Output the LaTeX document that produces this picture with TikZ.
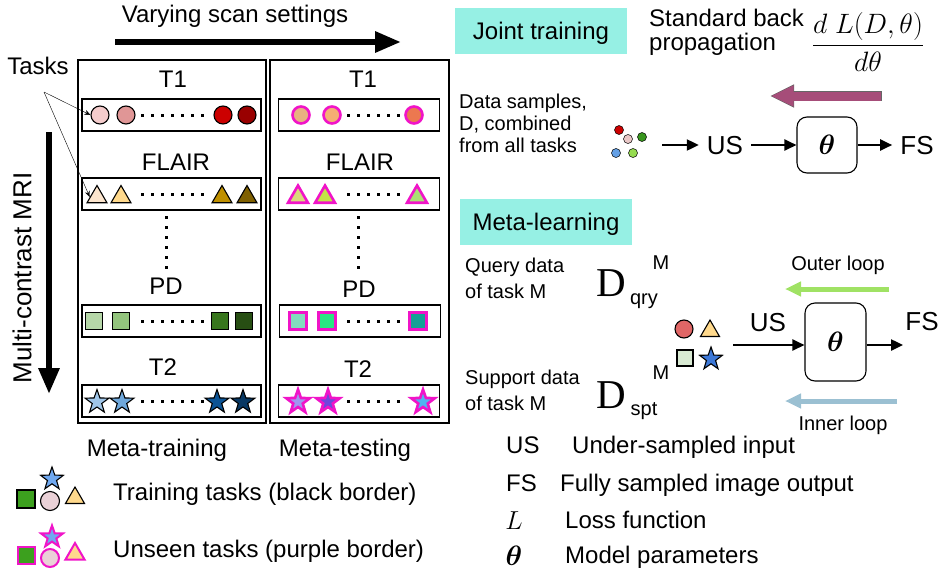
\RequirePackage{fix-cm}
\documentclass[tikz,border=0pt]{standalone}
\usepackage{amsmath}
\usepackage[no-math]{fontspec}
\setmainfont{Liberation Sans}
\newfontfamily\serifD{Liberation Serif}
\usepackage{tikz}
\usetikzlibrary{shapes.geometric, arrows.meta, positioning}

\definecolor{unseenpink}{RGB}{240,20,200}
\definecolor{headcyan}{RGB}{150,240,228}
\definecolor{backmaroon}{RGB}{166,77,121}
\definecolor{outergreen}{RGB}{160,226,100}
\definecolor{innerblue}{RGB}{155,192,210}
\definecolor{circA}{RGB}{244,204,204}
\definecolor{circB}{RGB}{224,150,150}
\definecolor{circC}{RGB}{204,0,0}
\definecolor{circD}{RGB}{153,0,0}
\definecolor{triA}{RGB}{252,229,205}
\definecolor{triB}{RGB}{255,217,140}
\definecolor{triC}{RGB}{191,144,0}
\definecolor{triD}{RGB}{127,96,0}
\definecolor{sqA}{RGB}{182,215,168}
\definecolor{sqB}{RGB}{147,196,125}
\definecolor{sqC}{RGB}{56,118,29}
\definecolor{sqD}{RGB}{39,78,19}
\definecolor{starA}{RGB}{159,197,232}
\definecolor{starB}{RGB}{111,168,220}
\definecolor{starC}{RGB}{11,83,148}
\definecolor{starD}{RGB}{7,55,99}
\definecolor{ucircA}{RGB}{232,178,128}
\definecolor{ucircB}{RGB}{245,175,115}
\definecolor{ucircC}{RGB}{236,120,80}
\definecolor{utriA}{RGB}{218,218,125}
\definecolor{utriB}{RGB}{195,228,70}
\definecolor{utriC}{RGB}{170,225,115}
\definecolor{usqA}{RGB}{130,220,190}
\definecolor{usqB}{RGB}{40,230,130}
\definecolor{usqC}{RGB}{20,160,150}
\definecolor{ustarA}{RGB}{160,150,240}
\definecolor{ustarB}{RGB}{110,70,220}
\definecolor{ustarC}{RGB}{80,180,240}
\definecolor{legGreen}{RGB}{60,160,30}
\definecolor{legStar}{RGB}{111,168,240}
\definecolor{legCirc}{RGB}{234,209,215}
\definecolor{legTri}{RGB}{255,217,140}
\definecolor{metaCirc}{RGB}{224,102,102}
\definecolor{metaSq}{RGB}{217,234,211}
\definecolor{metaStar}{RGB}{60,120,216}
\definecolor{dotRed}{RGB}{204,0,0}
\definecolor{dotPink}{RGB}{234,200,200}
\definecolor{dotGreen}{RGB}{56,150,30}
\definecolor{dotBlue}{RGB}{100,160,230}
\definecolor{dotLime}{RGB}{150,220,80}

\tikzstyle{txt} = [font=\fontsize{24}{28}\selectfont, text height=17pt,
    text depth=0pt, inner sep=0pt]
\tikzstyle{smalltxt} = [font=\fontsize{20}{24}\selectfont, text height=14pt,
    text depth=0pt, inner sep=0pt]
\tikzstyle{flowtxt} = [txt, font=\fontsize{26}{30}\selectfont, text height=18.6pt,
    inner xsep=8pt]
\tikzstyle{panel} = [draw, line width=1.1pt]
\tikzstyle{rowbox} = [draw, line width=1.1pt, minimum height=32pt]
\tikzstyle{seen} = [draw=black, line width=1.1pt, inner sep=0pt]
\tikzstyle{unseen} = [draw=unseenpink, line width=2.6pt, inner sep=0pt]
\tikzstyle{circ} = [circle, minimum size=18pt]
\tikzstyle{tri} = [regular polygon, regular polygon sides=3, minimum size=23pt]
\tikzstyle{sq} = [rectangle, minimum size=17.5pt]
\tikzstyle{strs} = [star, star points=5, star point ratio=2.5, minimum size=25pt]
\tikzstyle{dot} = [rectangle, fill=black, inner sep=0pt, minimum size=3pt]
\tikzstyle{bigarrow} = [line width=6pt, -{Triangle[length=26pt,width=20pt]}]
\tikzstyle{flow} = [line width=2.4pt, -{Triangle[length=12pt,width=11pt]}]
\tikzstyle{headbox} = [fill=headcyan, font=\fontsize{24}{28}\selectfont,
    text height=17pt, text depth=0pt, minimum width=172pt, minimum height=46pt]
\tikzstyle{modelbox} = [draw, line width=1.1pt, rounded corners=10pt,
    minimum width=60pt, font=\fontsize{28}{32}\selectfont]
\tikzstyle{bigD} = [inner sep=0pt, font=\serifD\fontsize{41}{44}\selectfont,
    text height=27pt, text depth=0pt]

\begin{document}
\begin{tikzpicture}[x=1pt, y=-1pt]
	\useasboundingbox (0,0) rectangle (952,570);

	\node [txt] (Vary_text) at (235,14) {Varying scan settings};
	\coordinate (Vary_start) at (115,42);
	\coordinate (Vary_end) at (401,42);
	\draw [bigarrow] (Vary_start) -- (Vary_end);

	\node [txt, rotate=90, font=\fontsize{26}{30}\selectfont, text height=18.6pt]
		(MRI_text) at (22,278) {Multi-contrast MRI};
	\coordinate (MRI_start) at (49,132);
	\coordinate (MRI_end) at (49,394);
	\draw [bigarrow] (MRI_start) -- (MRI_end);

	\node [panel, minimum width=188pt, minimum height=363pt] (Train_panel)
		at (172,241.5) {};
	\node [panel, minimum width=179pt, minimum height=363pt] (Test_panel)
		at (359.5,241.5) {};

	\node [txt] (Train_T1) at (173,79) {T1};
	\node [txt] (Train_FLAIR) at (176,162) {FLAIR};
	\node [txt] (Train_PD) at (166,286) {PD};
	\node [txt] (Train_T2) at (163,367) {T2};
	\node [txt] (Test_T1) at (363,79) {T1};
	\node [txt] (Test_FLAIR) at (360,162) {FLAIR};
	\node [txt] (Test_PD) at (359,289) {PD};
	\node [txt] (Test_T2) at (358,369) {T2};

	\node [rowbox, minimum width=179pt] (Train_row_T1) at (171.5,115) {};
	\node [rowbox, minimum width=179pt] (Train_row_FLAIR) at (171.5,194) {};
	\node [rowbox, minimum width=179pt] (Train_row_PD) at (171.5,321) {};
	\node [rowbox, minimum width=179pt] (Train_row_T2) at (171.5,401) {};
	\node [rowbox, minimum width=161pt] (Test_row_T1) at (359,115) {};
	\node [rowbox, minimum width=161pt] (Test_row_FLAIR) at (359,194) {};
	\node [rowbox, minimum width=161pt] (Test_row_PD) at (360,321) {};
	\node [rowbox, minimum width=161pt] (Test_row_T2) at (359,401) {};

	\foreach \x/\c/\n in {100/circA/1, 126/circB/2, 223/circC/3, 247/circD/4}
		\node [seen, circ, fill=\c] (Train_T1_\n) at (\x,115) {};
	\foreach \x/\c/\n in {97/triA/1, 121/triB/2, 222/triC/3, 247/triD/4}
		\node [seen, tri, fill=\c] (Train_FLAIR_\n) at (\x,197) {};
	\foreach \x/\c/\n in {94/sqA/1, 121/sqB/2, 220/sqC/3, 244/sqD/4}
		\node [seen, sq, fill=\c] (Train_PD_\n) at (\x,321) {};
	\foreach \x/\c/\n in {97/starA/1, 122/starB/2, 217/starC/3, 243/starD/4}
		\node [seen, strs, fill=\c] (Train_T2_\n) at (\x,402) {};

	\foreach \x/\c/\n in {301/ucircA/1, 332/ucircB/2, 414/ucircC/3}
		\node [unseen, circ, minimum size=17pt, fill=\c] (Test_T1_\n) at (\x,115) {};
	\foreach \x/\c/\n in {298/utriA/1, 325/utriB/2, 417/utriC/3}
		\node [unseen, tri, fill=\c] (Test_FLAIR_\n) at (\x,197) {};
	\foreach \x/\c/\n in {298/usqA/1, 327/usqB/2, 418/usqC/3}
		\node [unseen, sq, fill=\c] (Test_PD_\n) at (\x,321) {};
	\foreach \x/\c/\n in {298/ustarA/1, 328/ustarB/2, 423/ustarC/3}
		\node [unseen, strs, fill=\c] (Test_T2_\n) at (\x,402) {};

	\foreach \y/\r in {115/T1, 194/FLAIR, 321/PD, 401/T2} {
		\foreach \x in {142,152,...,202}
			\node [dot] (Train_dot_\r_\x) at (\x,\y) {};
		\foreach \x in {348,358,...,398}
			\node [dot] (Test_dot_\r_\x) at (\x,\y) {};
	}
	\foreach \y in {217,227,...,267} {
		\node [dot] (Train_vdot_\y) at (166,\y) {};
		\node [dot] (Test_vdot_\y) at (358,\y) {};
	}

	\node [txt] (Tasks_text) at (38,66) {Tasks};
	\coordinate (Tasks_foot) at (44,92);
	\draw [thin, -{Stealth[length=6pt,width=5pt]}] (Tasks_foot) -- (Train_T1_1.west);
	\draw [thin, -{Stealth[length=6pt,width=5pt]}] (Tasks_foot) -- (Train_FLAIR_1.west);

	\node [txt] (Train_caption) at (157,448) {Meta-training};
	\node [txt] (Test_caption) at (345,448) {Meta-testing};

	\node [seen, sq, minimum size=18pt, fill=legGreen] (Leg_seen_sq) at (26,499) {};
	\node [seen, strs, minimum size=24pt, fill=legStar] (Leg_seen_star) at (52,479) {};
	\node [seen, circ, minimum size=19pt, fill=legCirc] (Leg_seen_circ) at (50,501) {};
	\node [seen, tri, minimum size=22pt, fill=legTri] (Leg_seen_tri) at (75,498) {};
	\node [txt, anchor=west] (Leg_seen_text) at (113,492) {Training tasks (black border)};
	\node [unseen, sq, line width=2pt, minimum size=17pt, fill=legGreen] (Leg_unseen_sq)
		at (26,555) {};
	\node [unseen, strs, line width=2pt, minimum size=23pt, fill=legStar] (Leg_unseen_star)
		at (52,537) {};
	\node [unseen, circ, line width=2pt, fill=legCirc] (Leg_unseen_circ) at (50,558) {};
	\node [unseen, tri, line width=2pt, minimum size=22pt, fill=legTri] (Leg_unseen_tri)
		at (75,554) {};
	\node [txt, anchor=west] (Leg_unseen_text) at (113,549) {Unseen tasks (purple border)};

	\node [headbox] (Joint_head) at (541,30.5) {Joint training};
	\node [txt, anchor=west] (Back_l1) at (649,18) {Standard back};
	\node [txt, anchor=west] (Back_l2) at (649,42) {propagation};
	\node [font=\fontsize{28}{32}\selectfont, inner sep=0pt] (Back_frac) at (868,42)
		{$\dfrac{d\;L(D,\theta)}{d\theta}$};
	\coordinate (Back_start) at (882,96);
	\coordinate (Back_end) at (770,96);
	\draw [line width=10.6pt, black!60, -{Triangle[length=24pt,width=21.5pt]}]
		(Back_start) -- (Back_end);
	\draw [line width=9pt, backmaroon, -{Triangle[length=22.6pt,width=19.5pt]}]
		([xshift=-0.7pt]Back_start) -- ([xshift=0.9pt]Back_end);

	\node [smalltxt, anchor=west] (Data_l1) at (459,101) {Data samples,};
	\node [smalltxt, anchor=west] (Data_l2) at (459,123) {D, combined};
	\node [smalltxt, anchor=west] (Data_l3) at (459,145) {from all tasks};
	\node [seen, circle, line width=0.5pt, minimum size=9pt, fill=dotRed] (Joint_dot_1)
		at (619,130) {};
	\node [seen, circle, line width=0.5pt, minimum size=9pt, fill=dotPink] (Joint_dot_2)
		at (628,139) {};
	\node [seen, circle, line width=0.5pt, minimum size=9pt, fill=dotGreen] (Joint_dot_3)
		at (642,137) {};
	\node [seen, circle, line width=0.5pt, minimum size=9pt, fill=dotBlue] (Joint_dot_4)
		at (616,153) {};
	\node [seen, circle, line width=0.5pt, minimum size=9pt, fill=dotLime] (Joint_dot_5)
		at (633,153) {};
	\coordinate (Joint_in) at (662,145);
	\node [flowtxt] (Joint_US) at (725,145) {US};
	\node [modelbox, minimum height=56pt] (Joint_model) at (827,145) {$\boldsymbol{\theta}$};
	\node [flowtxt] (Joint_FS) at (917,145) {FS};
	\draw [flow] (Joint_in) -- (Joint_US);
	\draw [flow] (Joint_US) -- (Joint_model);
	\draw [flow] (Joint_model) -- (Joint_FS);

	\node [headbox] (Meta_head) at (546,222) {Meta-learning};
	\node [smalltxt, anchor=west] (Query_l1) at (465,265) {Query data};
	\node [smalltxt, anchor=west] (Query_l2) at (465,291) {of task M};
	\node [bigD] (Query_D) at (611,283) {D};
	\node [smalltxt] (Query_sub) at (644,297) {qry};
	\node [smalltxt] (Query_sup) at (661,262) {M};
	\node [smalltxt, anchor=west] (Support_l1) at (465,377) {Support data};
	\node [smalltxt, anchor=west] (Support_l2) at (465,403) {of task M};
	\node [bigD] (Support_D) at (611,395) {D};
	\node [smalltxt] (Support_sub) at (644,408) {spt};
	\node [smalltxt] (Support_sup) at (661,372) {M};

	\node [seen, circ, fill=metaCirc] (Meta_circ) at (684,329) {};
	\node [seen, tri, minimum size=22pt, fill=legTri] (Meta_tri) at (710,331) {};
	\node [seen, sq, minimum size=16pt, fill=metaSq] (Meta_sq) at (685,358) {};
	\node [seen, strs, minimum size=24pt, fill=metaStar] (Meta_star) at (711,359) {};
	\coordinate (Meta_in) at (733,345);
	\node [modelbox, minimum width=61pt, minimum height=78pt] (Meta_model) at (835.5,342)
		{$\boldsymbol{\theta}$};
	\coordinate (Meta_out) at (903,345);
	\node [flowtxt] (Meta_US) at (768,322) {US};
	\node [flowtxt] (Meta_FS) at (922,321) {FS};
	\draw [flow] (Meta_in) -- (Meta_model.west |- Meta_in);
	\draw [flow] (Meta_model.east |- Meta_out) -- (Meta_out);

	\node [smalltxt] (Outer_text) at (838,263) {Outer loop};
	\coordinate (Outer_start) at (889,289);
	\coordinate (Outer_end) at (785,289);
	\draw [line width=5pt, outergreen, -{Triangle[length=16pt,width=14pt]}]
		(Outer_start) -- (Outer_end);
	\coordinate (Inner_start) at (897,401);
	\coordinate (Inner_end) at (785,401);
	\draw [line width=5pt, innerblue, -{Triangle[length=16pt,width=14pt]}]
		(Inner_start) -- (Inner_end);
	\node [smalltxt] (Inner_text) at (843,423) {Inner loop};

	\node [txt, anchor=west] (Key_US) at (506,445) {US};
	\node [txt, anchor=west] (Key_US_text) at (572,445) {Under-sampled input};
	\node [txt, anchor=west] (Key_FS) at (506,483) {FS};
	\node [txt, anchor=west] (Key_FS_text) at (560,483) {Fully sampled image output};
	\node [inner sep=0pt, font=\fontsize{26}{30}\selectfont] (Key_L) at (514,521) {$L$};
	\node [txt, anchor=west] (Key_L_text) at (565,520) {Loss function};
	\node [inner sep=0pt, font=\fontsize{28}{32}\selectfont] (Key_theta) at (514,556)
		{$\boldsymbol{\theta}$};
	\node [txt, anchor=west] (Key_theta_text) at (565,555) {Model parameters};
\end{tikzpicture}
\end{document}
